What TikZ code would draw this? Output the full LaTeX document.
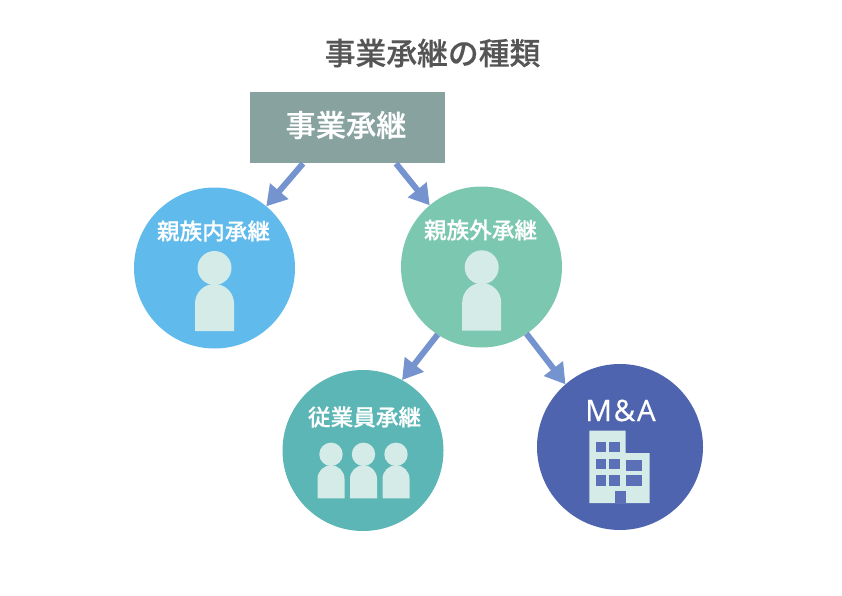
\documentclass[tikz,border=0pt]{standalone}
\usepackage{fontspec}
\usetikzlibrary{arrows.meta,calc}
\newfontfamily\jpmed[FakeBold=0.35]{Noto Sans CJK JP Medium}
\newfontfamily\latinwide[LetterSpace=6,FakeBold=0.6]{Open Sans}
\definecolor{titlegray}{HTML}{555555}
\definecolor{boxgray}{HTML}{88A2A0}
\definecolor{arrowblue}{HTML}{7594CF}
\definecolor{skyc}{HTML}{60BAEC}
\definecolor{greenc}{HTML}{7CC7AF}
\definecolor{tealc}{HTML}{5DB6B6}
\definecolor{navyc}{HTML}{4F64AE}
\definecolor{iconc}{HTML}{D5EBE8}
\definecolor{winc}{HTML}{5B70B6}
\tikzset{
  circ/.style={circle,inner sep=0pt,outer sep=0pt,minimum size=161pt},
  conn/.style={draw=arrowblue,line width=6pt,-{Triangle[length=20pt,width=23pt,fill=arrowblue]},shorten <=0pt},
  lab/.style={text=white,inner sep=0pt,font=\jpmed\fontsize{22.6}{24}\selectfont},
  icon/.style={fill=iconc,draw=none},
}
\newcommand{\personicon}[6]{% head x, head y, head r, body half-width, body top, body bottom
  \fill[icon] (#1,#2) circle[radius=#3];
  \fill[icon] (#1-#4,#6) -- (#1-#4,#5+#4) arc[start angle=180,end angle=360,radius=#4] -- (#1+#4,#6) -- cycle;
}
\begin{document}
\begin{tikzpicture}[x=1pt,y=-1pt]
\useasboundingbox (0,0) rectangle (842,596);
\node[text=titlegray,inner sep=0pt,font=\jpmed\fontsize{30.8}{32}\selectfont] (title) at (432.5,53) {事業承継の種類};
\node[fill=boxgray,inner sep=0pt,outer sep=0pt,minimum width=195pt,minimum height=71pt] (box) at (347.5,128) {};
\node[text=white,inner sep=0pt,font=\jpmed\fontsize{30.2}{32}\selectfont] (boxlab) at (346,125) {事業承継};
\node[circ,fill=skyc] (c1) at (214.5,268) {};
\node[circ,fill=greenc] (c2) at (481.5,267) {};
\node[circ,fill=tealc] (c3) at (363,450.5) {};
\node[circ,fill=navyc,minimum size=166pt] (c4) at (620,447) {};
\node[lab] (l1) at (213.5,231) {親族内承継};
\node[lab] (l2) at (480.5,230) {親族外承継};
\node[lab] (l3) at (364.5,417) {従業員承継};
\node[text=white,inner sep=0pt,font=\latinwide\fontsize{29.5}{30}\selectfont] (l4) at (620.5,410.5) {M\&A};
\path[conn] ($(box.south west)+(53,0)$) -- (c1.50);
\path[conn] ($(box.south west)+(146,0)$) -- (c2.130);
\path[conn] (c2.237) -- (c3.61);
\path[conn] (c2.-56) -- (c4.131);
\personicon{214.5}{268}{17}{19.5}{284}{331}
\personicon{481.7}{267.3}{17}{19.5}{283}{330.7}
\personicon{331}{454.3}{11.7}{13.5}{465.3}{498.3}
\personicon{363.5}{454.3}{11.7}{13.5}{465.3}{498.3}
\personicon{396}{454.3}{11.7}{13.5}{465.3}{498.3}
% building
\fill[icon] (589.3,430.7) -- (625.7,430.7) -- (625.7,453) -- (649.7,453) -- (649.7,503) -- (589.3,503) -- cycle;
\foreach \yy/\hh in {442.3/452,458.7/469,475.3/485.7}{
  \fill[winc] (595.7,\yy) rectangle (606,\hh);
  \fill[winc] (609.3,\yy) rectangle (619.7,\hh);
}
\fill[winc] (626.3,460.3) rectangle (641.7,470.7);
\fill[winc] (626.3,475.3) rectangle (641.7,485.7);
\fill[winc] (615.3,491) rectangle (625.7,503);
\end{tikzpicture}
\end{document}
